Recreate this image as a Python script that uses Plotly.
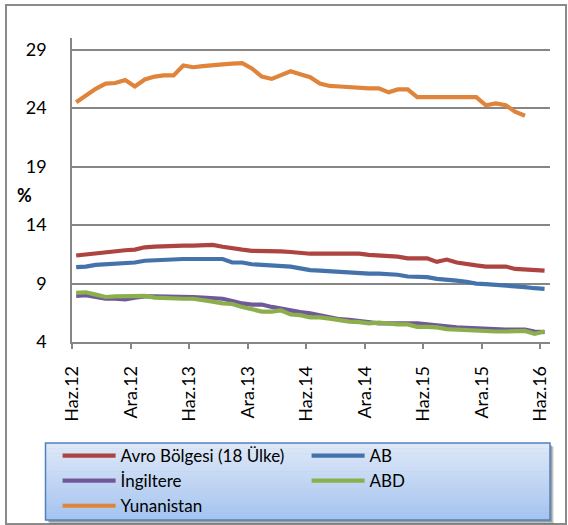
import plotly.graph_objects as go

# ---------------- data ----------------
months = [f"{y}-{m:02d}-14" for y in range(2012, 2017) for m in range(1, 13)
          if (y, m) >= (2012, 6) and (y, m) <= (2016, 6)]

tick_dates = ["2012-06-01", "2012-12-01", "2013-06-01", "2013-12-01", "2014-06-01",
              "2014-12-01", "2015-06-01", "2015-12-01", "2016-06-01"]
tick_labels = ["Haz.12", "Ara.12", "Haz.13", "Ara.13", "Haz.14",
               "Ara.14", "Haz.15", "Ara.15", "Haz.16"]

avro_bolgesi = [11.4, 11.5, 11.6, 11.7, 11.8, 11.85, 11.9, 12.1, 12.15, 12.2,
                12.25, 12.25, 12.25, 12.25, 12.3, 12.15, 12.0, 11.9, 11.8, 11.8,
                11.8, 11.75, 11.7, 11.6, 11.55, 11.55, 11.55, 11.55, 11.55, 11.55,
                11.45, 11.4, 11.35, 11.3, 11.15, 11.15, 11.15, 10.85, 11.05, 10.8,
                10.65, 10.55, 10.45, 10.45, 10.45, 10.25, 10.2, 10.15, 10.1]
ab = [10.4, 10.45, 10.6, 10.65, 10.7, 10.75, 10.8, 10.95, 11.0, 11.0,
      11.1, 11.1, 11.1, 11.1, 11.1, 11.1, 10.8, 10.8, 10.65, 10.6,
      10.55, 10.55, 10.45, 10.3, 10.15, 10.1, 10.05, 10.0, 9.9, 9.85,
      9.85, 9.85, 9.8, 9.75, 9.6, 9.55, 9.55, 9.4, 9.35, 9.25,
      9.15, 9.0, 8.95, 8.9, 8.85, 8.8, 8.7, 8.6, 8.55]
ingiltere = [7.95, 8.0, 7.85, 7.7, 7.7, 7.65, 7.8, 7.9, 7.9, 7.9,
             7.85, 7.85, 7.85, 7.8, 7.75, 7.7, 7.5, 7.3, 7.2, 7.2,
             7.0, 6.85, 6.7, 6.55, 6.45, 6.3, 6.15, 5.95, 5.9, 5.8,
             5.65, 5.6, 5.6, 5.6, 5.6, 5.6, 5.5, 5.4, 5.35, 5.25,
             5.2, 5.15, 5.1, 5.05, 5.05, 5.05, 5.05, 4.9, 4.85]
abd = [8.2, 8.25, 8.05, 7.85, 7.9, 7.9, 7.9, 7.95, 7.8, 7.75,
       7.7, 7.7, 7.7, 7.6, 7.45, 7.3, 7.25, 7.0, 6.8, 6.6,
       6.6, 6.7, 6.35, 6.3, 6.1, 6.1, 6.0, 5.85, 5.75, 5.7,
       5.6, 5.65, 5.55, 5.5, 5.5, 5.3, 5.3, 5.25, 5.1, 5.05,
       5.0, 5.0, 4.95, 4.9, 4.9, 4.95, 4.95, 4.7, 4.9]
yunanistan = [24.5, 25.1, 25.65, 26.1, 26.15, 26.4, 25.85, 26.45, 26.7, 26.8,
              26.8, 27.65, 27.5, 27.6, 27.7, 27.75, 27.8, 27.85, 27.4, 26.7,
              26.5, 26.85, 27.15, 26.9, 26.65, 26.1, 25.9, 25.85, 25.8, 25.7,
              25.7, 25.7, 25.35, 25.6, 25.6, 24.95, 24.95, 24.95, 24.95, 24.95,
              24.95, 24.95, 24.25, 24.4, 24.25, 23.7, 23.35]

series_names = ["Avro Bölgesi (18 Ülke)", "AB", "İngiltere", "ABD", "Yunanistan"]
series_values = [avro_bolgesi, ab, ingiltere, abd, yunanistan]
series_colors = ["#AD4441", "#4472AB", "#70589A", "#8BAF4A", "#DF843A"]

# ---------------- layout helpers ----------------
W, H = 568, 525
ML, MR, MT, MB = 72, 18, 38, 183
PW = W - ML - MR
PH = H - MT - MB


def px(x):
    return (x - ML) / PW


def py(y):
    return (H - MB - y) / PH


FONT = "Lato"
GRID = "#868686"

fig = go.Figure()
for name, vals, col in zip(series_names, series_values, series_colors):
    fig.add_trace(go.Scatter(x=months[:len(vals)], y=vals, name=name, mode="lines",
                             line=dict(color=col, width=4.2)))

shapes = []
# outer frame
shapes.append(dict(type="rect", xref="paper", yref="paper", x0=px(6), x1=px(566),
                   y0=py(524), y1=py(5), line=dict(color="#8a8a8a", width=2),
                   fillcolor="rgba(0,0,0,0)", layer="below"))
# legend box shadow
for off, a in [(4, 0.10), (3, 0.15), (2, 0.2)]:
    shapes.append(dict(type="rect", xref="paper", yref="paper",
                       x0=px(45.5 + off), x1=px(550 + off), y0=py(520 + off), y1=py(443 + off),
                       line=dict(width=0), fillcolor=f"rgba(0,0,0,{a})", layer="above"))
# legend gradient background
n = 30
top_c = (222, 232, 248)
bot_c = (165, 196, 239)
y_top, y_bot = 443.0, 520.0
for i in range(n):
    t = i / (n - 1)
    c = tuple(int(round(top_c[k] + (bot_c[k] - top_c[k]) * t)) for k in range(3))
    ya = y_top + (y_bot - y_top) * i / n
    yb = y_top + (y_bot - y_top) * (i + 1) / n + 0.6
    shapes.append(dict(type="rect", xref="paper", yref="paper",
                       x0=px(45.5), x1=px(550), y0=py(min(yb, y_bot)), y1=py(ya),
                       line=dict(width=0), fillcolor=f"rgb{c}", layer="above"))
shapes.append(dict(type="rect", xref="paper", yref="paper", x0=px(45.5), x1=px(550),
                   y0=py(520), y1=py(443), line=dict(color="#4F81BD", width=1.5),
                   fillcolor="rgba(0,0,0,0)", layer="above"))

fig.update_layout(
    width=W, height=H,
    margin=dict(l=ML, r=MR, t=MT, b=MB, pad=0, autoexpand=False),
    paper_bgcolor="white", plot_bgcolor="white",
    font=dict(family=FONT, size=17, color="black"),
    showlegend=True,
    legend=dict(orientation="h", x=px(57.6), xanchor="left", y=py(438), yanchor="top",
                bgcolor="rgba(0,0,0,0)", borderwidth=0,
                font=dict(family=FONT, size=17, color="black"),
                itemwidth=53, entrywidth=181, traceorder="normal"),
    xaxis=dict(type="date", range=["2012-06-01", "2016-07-01"],
               tickmode="array", tickvals=tick_dates, ticktext=tick_labels,
               tickangle=-90, ticks="outside", ticklen=5, tickwidth=1.5, tickcolor=GRID,
               showline=True, linecolor=GRID, linewidth=1.5, showgrid=False, zeroline=False,
               automargin=False,
               tickfont=dict(family=FONT, size=18, color="black"), ticklabelstandoff=10),
    xaxis2=dict(type="date", range=["2012-06-01", "2016-07-01"], overlaying="x", anchor="y",
                side="bottom", tickmode="array", tickvals=tick_dates, ticks="inside",
                ticklen=5, tickwidth=1.5, tickcolor=GRID, showticklabels=False,
                showline=False, showgrid=False, zeroline=False),
    yaxis=dict(range=[4, 30], tickmode="array", tickvals=[4, 9, 14, 19, 24, 29],
               showgrid=True, gridcolor=GRID, gridwidth=1.5, showline=True,
               linecolor=GRID, linewidth=1.5, ticks="", zeroline=False, automargin=False,
               tickfont=dict(family=FONT, size=18, color="black"), ticklabelstandoff=20),
    shapes=shapes,
    annotations=[dict(text="<b>%</b>", xref="paper", yref="paper", x=px(24.5), y=py(194.5),
                      showarrow=False, font=dict(family=FONT, size=18, color="black"),
                      xanchor="center", yanchor="middle")],
)

fig.write_html("out.html", config={"displayModeBar": False},
               post_script="document.body.style.margin='0';document.body.style.overflow='hidden';")
